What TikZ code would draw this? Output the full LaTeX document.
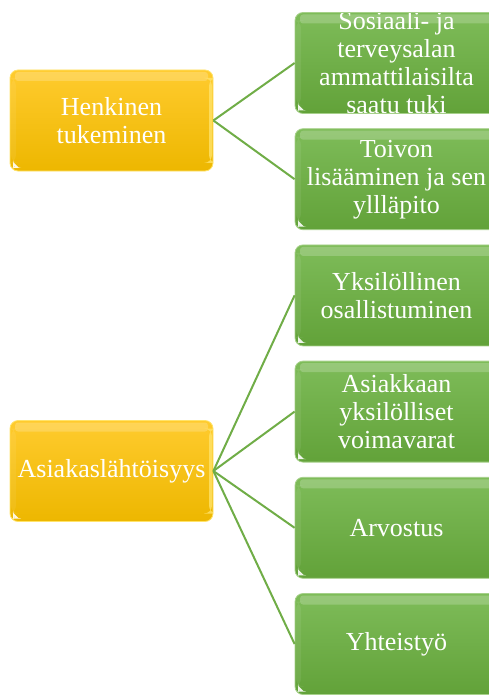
\documentclass[tikz,border=0pt]{standalone}
\usepackage{fontspec}
\setmainfont{Liberation Serif}
\usetikzlibrary{calc}

\definecolor{goldtop}{HTML}{FFCB2E}
\definecolor{goldbot}{HTML}{EDB700}
\definecolor{goldrim}{HTML}{FFE36A}
\definecolor{leaf}{HTML}{70AD47}
\definecolor{leaftop}{HTML}{7EBC59}
\definecolor{leafbot}{HTML}{62A239}
\definecolor{leafrim}{HTML}{A6D08A}

\tikzset{
  rim/.store in=\boxrim, rim=white,
  boxlabel/.style={path picture={
    % glossy top band, left band and bright right edge
    \fill[white,opacity=0.2,rounded corners=3pt] ($(path picture bounding box.north west)+(5,2)$) rectangle ($(path picture bounding box.north east)+(-5,11)$);
    \fill[white,opacity=0.07] ($(path picture bounding box.north west)+(1,8)$) rectangle ($(path picture bounding box.south west)+(6,-8)$);
    \fill[\boxrim,opacity=0.8] ($(path picture bounding box.north east)+(-4,8)$) rectangle ($(path picture bounding box.south east)+(-1,-8)$);
    % small corner mark
    \fill[white,opacity=0.9] ($(path picture bounding box.south west)+(3,-3)$) -- ++(6,0) -- ++(-6,-6) -- cycle;
    \node[text=white,align=center,inner sep=0pt,minimum width=0pt,minimum height=0pt,
          font=\fontsize{26}{28}\selectfont] at (path picture bounding box.center) {#1};
  }},
  trunk/.style={rectangle,rounded corners=8pt,minimum width=203pt,minimum height=101pt,
    top color=goldtop,bottom color=goldbot,draw=goldrim,line width=0.8pt,rim=goldrim},
  branch/.style={rectangle,rounded corners=8pt,minimum width=203pt,minimum height=101pt,
    top color=leaftop,bottom color=leafbot,draw=leafrim,line width=0.8pt,rim=leafrim},
  link/.style={draw=leaf,line width=2pt}
}

\begin{document}
\begin{tikzpicture}[x=1pt,y=-1pt]
  \useasboundingbox (0,0) rectangle (489,695);
  \clip (0,0) rectangle (489,695);
  \pgfmathsetmacro\gap{116.2}

% main themes
  \node[trunk,boxlabel={Henkinen\\tukeminen}] (henk) at (111.5,120.5) {};
  \node[trunk,boxlabel={Asiakaslähtöisyys}] (asiak) at (111.5,471) {};

% sub themes
  \foreach \i/\txt in {1/{Sosiaali- ja\\terveysalan\\ammattilaisilta\\saatu tuki},
                       2/{Toivon\\lisääminen ja sen\\yllläpito},
                       3/{Yksilöllinen\\osallistuminen},
                       4/{Asiakkaan\\yksilölliset\\voimavarat},
                       5/{Arvostus},
                       6/{Yhteistyö}} {
      \pgfmathsetmacro\gy{63+\gap*(\i-1)}
      \node[branch,boxlabel=\txt] (g\i) at (396.5,\gy) {};
  }

% connectors
  \foreach \i in {1,2} {
      \draw[link] (henk.east) -- (g\i.west);
  }
  \foreach \i in {3,...,6} {
      \draw[link] (asiak.east) -- (g\i.west);
  }

\end{tikzpicture}
\end{document}
